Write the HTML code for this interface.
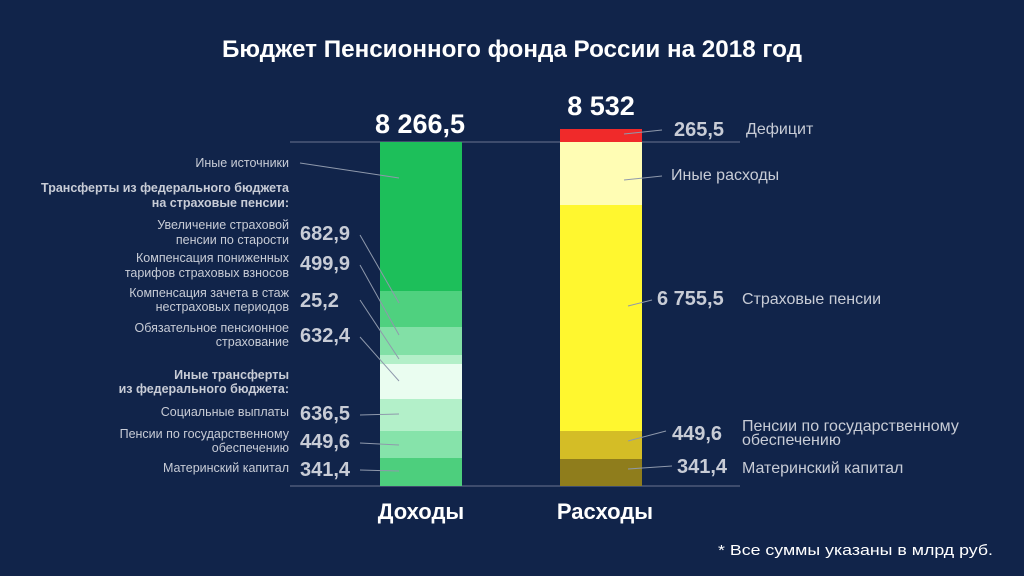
<!DOCTYPE html>
<html><head><meta charset="utf-8"><style>
html,body{margin:0;padding:0;background:#11244a;}
svg{display:block}
text{font-family:"Liberation Sans",sans-serif;}
</style></head><body>
<svg width="1024" height="576" viewBox="0 0 1024 576" xmlns="http://www.w3.org/2000/svg">
<rect width="1024" height="576" fill="#11244a"/>
<text x="512" y="57" text-anchor="middle" font-size="24" font-weight="bold" fill="#fff" textLength="580" lengthAdjust="spacingAndGlyphs">Бюджет Пенсионного фонда России на 2018 год</text>
<line x1="290" y1="142" x2="740" y2="142" stroke="#6a7590" stroke-width="1"/>
<line x1="290" y1="486" x2="740" y2="486" stroke="#6a7590" stroke-width="1"/>
<!-- left bar -->
<rect x="380" y="142" width="82" height="149" fill="#1dbf5a"/>
<rect x="380" y="291" width="82" height="36" fill="#4fd17f"/>
<rect x="380" y="327" width="82" height="28" fill="#82e0a6"/>
<rect x="380" y="355" width="82" height="9" fill="#b3efc8"/>
<rect x="380" y="364" width="82" height="35" fill="#eafdf0"/>
<rect x="380" y="399" width="82" height="32" fill="#b3f0c9"/>
<rect x="380" y="431" width="82" height="27" fill="#86e3aa"/>
<rect x="380" y="458" width="82" height="28" fill="#4dcf7d"/>
<!-- right bar -->
<rect x="560" y="129" width="82" height="13" fill="#f02a2a"/>
<rect x="560" y="142" width="82" height="63" fill="#fffdb4"/>
<rect x="560" y="205" width="82" height="226" fill="#fff72f"/>
<rect x="560" y="431" width="82" height="28" fill="#d4bd26"/>
<rect x="560" y="459" width="82" height="27" fill="#8f7d1c"/>
<text x="420" y="133" text-anchor="middle" font-size="27" font-weight="bold" fill="#fff">8 266,5</text>
<text x="601" y="115" text-anchor="middle" font-size="27" font-weight="bold" fill="#fff">8 532</text>
<g stroke="#8f99ac" stroke-width="1" fill="none">
<line x1="300" y1="163" x2="399" y2="178"/>
<line x1="360" y1="235" x2="399" y2="303"/>
<line x1="360" y1="265" x2="399" y2="335"/>
<line x1="360" y1="300" x2="399" y2="359"/>
<line x1="360" y1="337" x2="399" y2="381"/>
<line x1="360" y1="415" x2="399" y2="414"/>
<line x1="360" y1="443" x2="399" y2="445"/>
<line x1="360" y1="470" x2="399" y2="471"/>
<line x1="624" y1="134" x2="662" y2="130"/>
<line x1="624" y1="180" x2="662" y2="176"/>
<line x1="628" y1="306" x2="652" y2="300"/>
<line x1="628" y1="441" x2="666" y2="431"/>
<line x1="628" y1="469" x2="672" y2="466"/>
</g>
<g font-size="12.5" fill="#c8ccd6" text-anchor="end">
<text x="289" y="167">Иные источники</text>
<text x="289" y="192" font-weight="bold">Трансферты из федерального бюджета</text>
<text x="289" y="207" font-weight="bold">на страховые пенсии:</text>
<text x="289" y="229">Увеличение страховой</text>
<text x="289" y="244">пенсии по старости</text>
<text x="289" y="262">Компенсация пониженных</text>
<text x="289" y="277">тарифов страховых взносов</text>
<text x="289" y="297">Компенсация зачета в стаж</text>
<text x="289" y="311">нестраховых периодов</text>
<text x="289" y="332">Обязательное пенсионное</text>
<text x="289" y="346">страхование</text>
<text x="289" y="379" font-weight="bold">Иные трансферты</text>
<text x="289" y="393" font-weight="bold">из федерального бюджета:</text>
<text x="289" y="416">Социальные выплаты</text>
<text x="289" y="438">Пенсии по государственному</text>
<text x="289" y="452">обеспечению</text>
<text x="289" y="472">Материнский капитал</text>
</g>
<g font-size="20" font-weight="bold" fill="#c8ccd6">
<text x="300" y="240">682,9</text>
<text x="300" y="270">499,9</text>
<text x="300" y="307">25,2</text>
<text x="300" y="342">632,4</text>
<text x="300" y="420">636,5</text>
<text x="300" y="448">449,6</text>
<text x="300" y="476">341,4</text>
<text x="674" y="136">265,5</text>
<text x="657" y="305">6 755,5</text>
<text x="672" y="440">449,6</text>
<text x="677" y="473">341,4</text>
</g>
<g font-size="16" fill="#c8ccd6">
<text x="746" y="134">Дефицит</text>
<text x="671" y="180">Иные расходы</text>
<text x="742" y="304">Страховые пенсии</text>
<text x="742" y="431">Пенсии по государственному</text>
<text x="742" y="445">обеспечению</text>
<text x="742" y="473">Материнский капитал</text>
</g>
<text x="421" y="519" text-anchor="middle" font-size="22" font-weight="bold" fill="#fff">Доходы</text>
<text x="605" y="519" text-anchor="middle" font-size="22" font-weight="bold" fill="#fff">Расходы</text>
<text x="993" y="555" text-anchor="end" font-size="15" fill="#fff" textLength="275" lengthAdjust="spacingAndGlyphs">* Все суммы указаны в млрд руб.</text>
</svg>
</body></html>
